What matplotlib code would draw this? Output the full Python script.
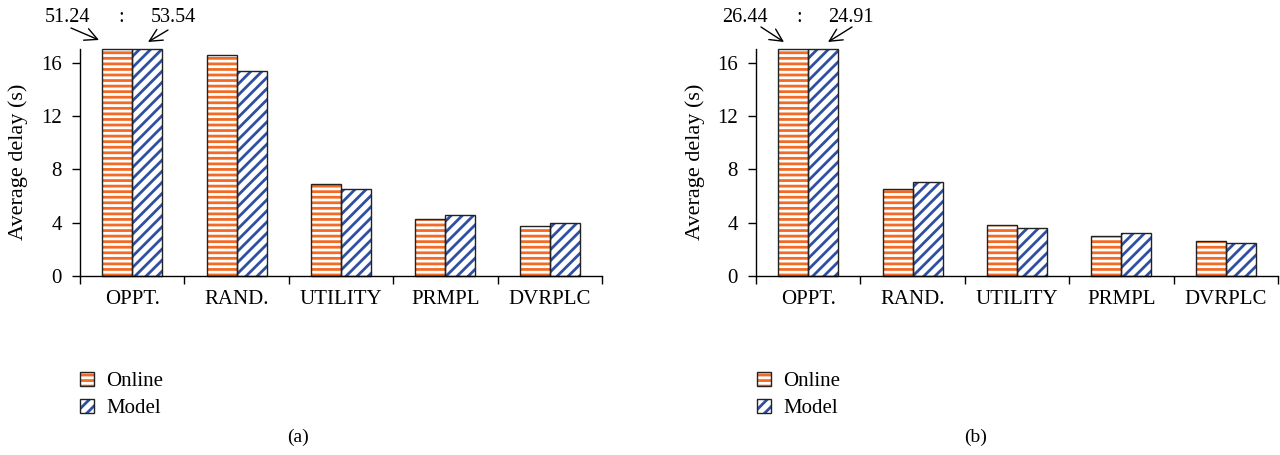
import matplotlib
matplotlib.use("Agg")
import matplotlib.pyplot as plt
import numpy as np
from matplotlib.patches import Patch, FancyArrowPatch
from matplotlib.legend_handler import HandlerTuple

plt.rcParams['font.family'] = ['Liberation Serif', 'DejaVu Serif']
plt.rcParams['hatch.linewidth'] = 2.0

categories = ["OPPT.", "RAND.", "UTILITY", "PRMPL", "DVRPLC"]
online_a = [51.24, 16.6, 6.9, 4.28, 3.77]
model_a = [53.54, 15.4, 6.5, 4.55, 3.95]
online_b = [26.44, 6.5, 3.8, 2.98, 2.6]
model_b = [24.91, 7.07, 3.58, 3.2, 2.45]
yticks = [0, 4, 8, 12, 16]
series_names = ["Online", "Model"]
panel_labels = ["(a)", "(b)"]

ORANGE = "#F26A24"
BLUE = "#2F4FA2"
W, H = 1280, 455
YMAX = 17.0
FS = 15


def px(x, y):
    return (x / W, 1 - y / H)


fig = plt.figure(figsize=(12.8, 4.55), dpi=100)

axes_px = [(80, 602), (756, 1278)]
ax_top, ax_bot = 49.4, 276


def draw_panel(ax, online, model):
    x = np.arange(len(categories))
    bw = 0.287
    on = np.array(online)
    mo = np.array(model)
    ax.bar(x - bw / 2, on, bw, color="white", edgecolor=ORANGE, hatch="---", linewidth=0)
    ax.bar(x + bw / 2, mo, bw, color="white", edgecolor=BLUE, hatch="///", linewidth=0)
    ax.bar(x - bw / 2, np.minimum(on, YMAX), bw, fill=False, edgecolor="#222222", linewidth=1.0, clip_on=False)
    ax.bar(x + bw / 2, np.minimum(mo, YMAX), bw, fill=False, edgecolor="#222222", linewidth=1.0, clip_on=False)
    ax.set_xlim(-0.5, len(categories) - 0.5)
    ax.set_ylim(0, YMAX)
    ax.set_yticks(yticks)
    ax.set_xticks(x)
    ax.set_xticklabels(categories, fontsize=FS)
    ax.set_xticks(np.arange(len(categories) + 1) - 0.5, minor=True)
    ax.tick_params(axis='x', which='major', length=0, pad=10)
    ax.tick_params(axis='x', which='minor', length=6, width=1.0, direction='out')
    ax.tick_params(axis='y', which='major', length=6, width=1.0, direction='out', labelsize=FS, pad=7)
    for s in ['top', 'right']:
        ax.spines[s].set_visible(False)
    for s in ['left', 'bottom']:
        ax.spines[s].set_linewidth(1.0)


datasets = [(online_a, model_a), (online_b, model_b)]
axs = []
for (x0, x1), (on, mo) in zip(axes_px, datasets):
    l, b = px(x0, ax_bot)
    ax = fig.add_axes([l, b, (x1 - x0) / W, (ax_bot - ax_top) / H])
    draw_panel(ax, on, mo)
    axs.append(ax)

# y labels
for x in [18.5, 695]:
    fig.text(*px(x, 162), "Average delay (s)", rotation=90, ha='center', va='center', fontsize=16)

# annotations of clipped values
annots = [
    (online_a[0], model_a[0], 67.5, 121, 173, ((71, 28), (99, 40)), ((168, 30), (148, 42))),
    (online_b[0], model_b[0], 745, 799, 851, ((761, 27), (784, 42)), ((852, 27), (828, 42))),
]
for v1, v2, t1, tc, t2, a1, a2 in annots:
    fig.text(*px(t1, 17), f"{v1:.2f}", ha='center', va='center', fontsize=14.5)
    fig.text(*px(tc, 17), ":", ha='center', va='center', fontsize=14.5)
    fig.text(*px(t2, 17), f"{v2:.2f}", ha='center', va='center', fontsize=14.5)
    for (s, e) in (a1, a2):
        fig.add_artist(FancyArrowPatch(
            px(*s), px(*e), transform=fig.transFigure, arrowstyle='->,head_length=9,head_width=4.5',
            color='black', linewidth=1.0, mutation_scale=1, shrinkA=0, shrinkB=0))

# legends
for lx in [80, 757]:
    h1 = (Patch(facecolor='white', edgecolor=ORANGE, hatch='---', linewidth=0),
          Patch(fill=False, edgecolor='#222222', linewidth=1.0))
    h2 = (Patch(facecolor='white', edgecolor=BLUE, hatch='///', linewidth=0),
          Patch(fill=False, edgecolor='#222222', linewidth=1.0))
    fig.legend([h1, h2], series_names, loc='upper left', bbox_to_anchor=px(lx, 372),
               frameon=False, borderpad=0, borderaxespad=0, handlelength=0.66, handleheight=0.66,
               handletextpad=0.6, labelspacing=0.35, fontsize=FS,
               handler_map={tuple: HandlerTuple(ndivide=1)})

for x, lab in zip([298, 976], panel_labels):
    fig.text(*px(x, 437), lab, ha='center', va='center', fontsize=14)

fig.savefig("out.png", dpi=100)
